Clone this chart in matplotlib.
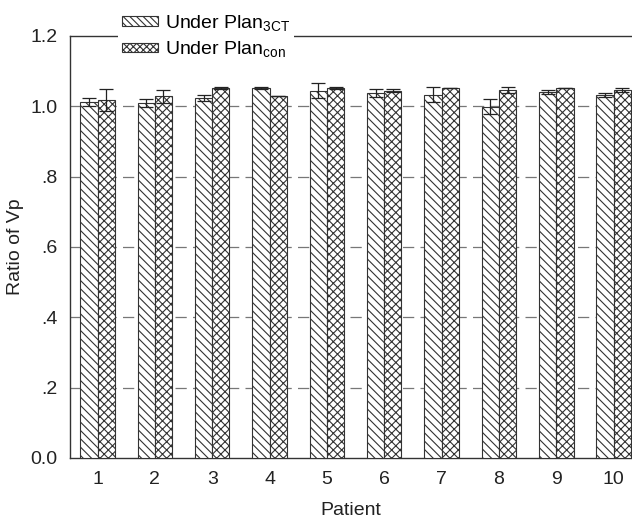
import matplotlib
matplotlib.use("Agg")
import matplotlib.pyplot as plt
from matplotlib.patches import Patch
import numpy as np

patients = ["1", "2", "3", "4", "5", "6", "7", "8", "9", "10"]
plan_3ct = [1.012, 1.010, 1.024, 1.052, 1.045, 1.037, 1.033, 0.999, 1.040, 1.033]
plan_3ct_err = [0.012, 0.011, 0.009, 0.003, 0.020, 0.011, 0.022, 0.022, 0.006, 0.006]
plan_con = [1.018, 1.028, 1.052, 1.030, 1.052, 1.045, 1.051, 1.047, 1.051, 1.047]
plan_con_err = [0.032, 0.019, 0.003, 0.0, 0.002, 0.003, 0.0, 0.009, 0.0, 0.006]
yticks = [0.0, 0.2, 0.4, 0.6, 0.8, 1.0, 1.2]
ytick_labels = ["0.0", ".2", ".4", ".6", ".8", "1.0", "1.2"]

plt.rcParams['font.family'] = ['Liberation Sans', 'DejaVu Sans']
plt.rcParams['mathtext.fontset'] = 'custom'
plt.rcParams['mathtext.rm'] = 'Liberation Sans'
plt.rcParams['mathtext.it'] = 'Liberation Sans:italic'
plt.rcParams['mathtext.bf'] = 'Liberation Sans:bold'
plt.rcParams['hatch.linewidth'] = 0.8

FS = 14

fig = plt.figure(figsize=(6.32, 5.21), dpi=100)
ax = fig.add_axes([70/632, 1 - 458/521, 562/632, (458-36)/521])

x = np.arange(1, len(patients) + 1)
w = 0.3
ec = '#333333'
ax.bar(x - w/2, plan_3ct, width=w, color='white', edgecolor=ec, hatch='\\\\\\\\', linewidth=0.8, zorder=3)
ax.bar(x + w/2, plan_con, width=w, color='white', edgecolor=ec, hatch='xxxx', linewidth=0.8, zorder=3)
ax.errorbar(x - w/2, plan_3ct, yerr=plan_3ct_err, fmt='none', ecolor='#222222', elinewidth=0.9, capsize=5, capthick=0.9, zorder=4)
ax.errorbar(x + w/2, plan_con, yerr=plan_con_err, fmt='none', ecolor='#222222', elinewidth=0.9, capsize=5, capthick=0.9, zorder=4)

ax.set_xlim(0.52, 10.32)
ax.set_ylim(0, 1.2)
ax.set_yticks(yticks)
ax.set_yticklabels(ytick_labels)
ax.set_xticks(x)
ax.set_xticklabels(patients)
ax.tick_params(axis='both', length=0, labelsize=FS, colors='#222222')
ax.tick_params(axis='y', pad=9)
ax.tick_params(axis='x', pad=9)

for yv in yticks[1:-1]:
    ax.axhline(yv, color='#777777', linewidth=0.9, dashes=(9, 5), zorder=1)

for s in ['left', 'bottom', 'top']:
    ax.spines[s].set_color('#333333')
    ax.spines[s].set_linewidth(1.0)
ax.spines['right'].set_visible(False)

ax.set_xlabel("Patient", fontsize=FS, color='#222222')
ax.set_ylabel("Ratio of Vp", fontsize=FS, color='#222222')
ax.xaxis.set_label_coords(0.5, -0.105)
ax.yaxis.set_label_coords(-0.082, 0.5)

handles = [Patch(facecolor='white', edgecolor=ec, hatch='\\\\\\\\\\', linewidth=0.8),
           Patch(facecolor='white', edgecolor=ec, hatch='xxxxx', linewidth=0.8)]
leg = ax.legend(handles, ["Under Plan$_{\\mathrm{3CT}}$", "Under Plan$_{\\mathrm{con}}$"],
                loc='center left', bbox_to_anchor=(0.085, 1.0), frameon=True,
                fontsize=FS, handlelength=1.85, handleheight=0.4, handletextpad=0.4,
                labelspacing=0.35, borderpad=0.2, borderaxespad=0.0)
leg.get_frame().set_facecolor('white')
leg.get_frame().set_edgecolor('none')
leg.get_frame().set_alpha(1.0)
leg.set_zorder(10)

fig.savefig("out.png", dpi=100)
